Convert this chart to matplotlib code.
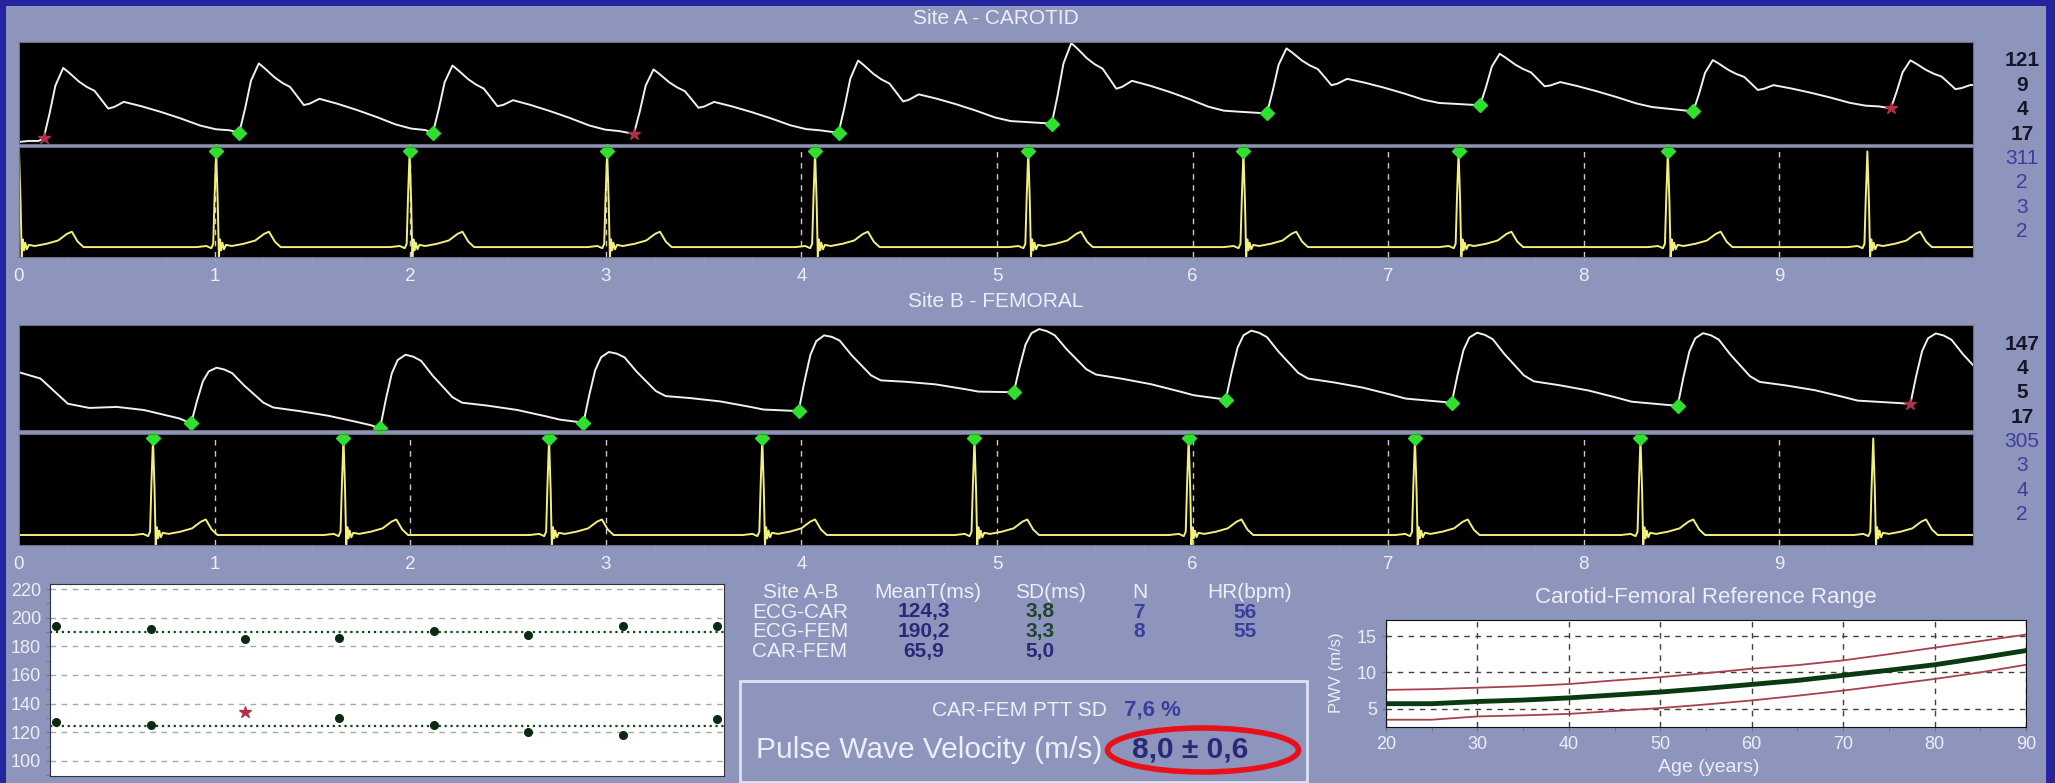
import numpy as np
import matplotlib.pyplot as plt
from matplotlib.patches import Rectangle, Ellipse

plt.rcParams['font.family'] = ['Liberation Sans', 'DejaVu Sans']

W, H = 2055, 783

# ---------------- data ----------------
# Site A (carotid) pressure: foot time (s), foot level, peak level (0..1 of panel)
car_foot_t = [0.126, 1.126, 2.116, 3.144, 4.19, 5.28, 6.38, 7.47, 8.56, 9.57]
car_foot_lvl = [0.055, 0.11, 0.11, 0.10, 0.11, 0.20, 0.30, 0.38, 0.32, 0.35]
car_peak_lvl = [0.74, 0.79, 0.77, 0.73, 0.81, 0.98, 0.93, 0.89, 0.82, 0.82]
car_rejected = [0, 3, 9]
car_lead_t = [0.0, 0.05, 0.10]
car_lead_v = [0.02, 0.03, 0.03]
# carotid beat shape: offset from foot (s), fraction of foot->peak
car_shape_t = [0.00, 0.03, 0.06, 0.10, 0.13, 0.18, 0.22, 0.26, 0.29, 0.33, 0.36, 0.41,
               0.50, 0.60, 0.70, 0.80, 0.88, 0.95]
car_shape_v = [0.00, 0.35, 0.75, 1.00, 0.93, 0.80, 0.72, 0.66, 0.55, 0.40, 0.42, 0.49,
               0.42, 0.33, 0.23, 0.12, 0.06, 0.04]

# Site B (femoral) pressure
fem_foot_t = [0.88, 1.846, 2.886, 3.986, 5.086, 6.17, 7.325, 8.48, 9.67]
fem_foot_lvl = [0.063, 0.016, 0.07, 0.18, 0.36, 0.29, 0.26, 0.23, 0.25]
fem_peak_lvl = [0.60, 0.71, 0.73, 0.88, 0.97, 0.95, 0.93, 0.92, 0.92]
fem_rejected = [8]
fem_lead_t = [0.0, 0.11, 0.25, 0.36, 0.50, 0.64, 0.82]
fem_lead_v = [0.55, 0.49, 0.25, 0.21, 0.22, 0.19, 0.11]
fem_shape_t = [0.00, 0.03, 0.06, 0.09, 0.13, 0.17, 0.21, 0.27, 0.32, 0.37, 0.42,
               0.55, 0.70, 0.85, 0.92]
fem_shape_v = [0.00, 0.40, 0.75, 0.93, 1.00, 0.97, 0.91, 0.70, 0.55, 0.40, 0.32,
               0.27, 0.20, 0.10, 0.05]

# ECG R-peak times (s); markers on detected beats
ecg_a_r = [0.0, 1.008, 1.997, 3.007, 4.07, 5.16, 6.26, 7.36, 8.43, 9.45]
ecg_a_marked = [1, 2, 3, 4, 5, 6, 7, 8]
ecg_b_r = [0.685, 1.659, 2.71, 3.80, 4.885, 5.98, 7.137, 8.29, 9.48]
ecg_b_marked = [0, 1, 2, 3, 4, 5, 6, 7]
ecg_base = 0.09
ecg_shape_t = [-0.10, -0.05, -0.025, -0.015, -0.008, 0.0, 0.008, 0.014, 0.020, 0.026,
               0.032, 0.040, 0.050, 0.08, 0.14, 0.20, 0.245, 0.27, 0.30, 0.33]
ecg_shape_v = [0.09, 0.10, 0.08, 0.12, 0.55, 0.96, 0.50, 0.00, 0.16, 0.06,
               0.13, 0.07, 0.11, 0.10, 0.12, 0.15, 0.21, 0.23, 0.14, 0.09]

# right-hand quality numbers
site_a_dark = ['121', '9', '4', '17']
site_a_blue = ['311', '2', '3', '2']
site_b_dark = ['147', '4', '5', '17']
site_b_blue = ['305', '3', '4', '2']

# transit times per beat (ms)
beat_idx = [0, 1, 2, 3, 4, 5, 6, 7]
ptt_fem = [194, 192, 185, 186, 191, 188, 194, 194]
ptt_car = [127, 125, 134, 130, 125, 120, 118, 129]
ptt_car_rejected = 2

# results table
tbl_head = ['Site A-B', 'MeanT(ms)', 'SD(ms)', 'N', 'HR(bpm)']
tbl_rows = ['ECG-CAR', 'ECG-FEM', 'CAR-FEM']
tbl_mean = ['124,3', '190,2', '65,9']
tbl_sd = ['3,8', '3,3', '5,0']
tbl_n = ['7', '8', '']
tbl_hr = ['56', '55', '']
mean_car, mean_fem = 124.3, 190.2
ptt_sd_txt = '7,6 %'
pwv_txt = '8,0 ± 0,6'

# reference range (age vs PWV)
ref_age = [20, 25, 30, 35, 40, 45, 50, 55, 60, 65, 70, 75, 80, 85, 90]
ref_hi = [7.6, 7.7, 7.9, 8.1, 8.4, 8.9, 9.35, 9.9, 10.5, 11.0, 11.65, 12.5, 13.4, 14.3, 15.2]
ref_mid = [5.7, 5.7, 6.0, 6.2, 6.5, 6.9, 7.3, 7.8, 8.35, 8.9, 9.6, 10.3, 11.05, 12.0, 13.0]
ref_lo = [3.5, 3.5, 3.95, 4.1, 4.3, 4.7, 5.1, 5.6, 6.15, 6.8, 7.5, 8.3, 9.1, 10.0, 11.05]

# ---------------- colours ----------------
BORDER = '#24249e'
BG = '#8e95bc'
LIGHT = '#eceef8'
NAVY = '#262a78'
BLUE = '#3a3f9e'
GREEN_MK = '#2fe02f'
RED_MK = '#b0304a'


def box(l, t, r, b):
    return [l / W, 1 - b / H, (r - l) / W, (b - t) / H]


def ftext(x, y, s, **kw):
    kw.setdefault('va', 'center')
    fig.text(x / W, 1 - y / H, s, **kw)


def build_pulse(feet, foot_lvl, peak_lvl, sh_t, sh_v, lead_t, lead_v):
    t, v = list(lead_t), list(lead_v)
    for i, f in enumerate(feet):
        last = i + 1 == len(feet)
        nxt = foot_lvl[i] if last else foot_lvl[i + 1]
        period = 1.0 if last else feet[i + 1] - f
        amp = peak_lvl[i] - foot_lvl[i]
        for dt, fr in zip(sh_t, sh_v):
            if dt >= period:
                break
            t.append(f + dt)
            v.append(foot_lvl[i] + (nxt - foot_lvl[i]) * dt / period + fr * amp)
    return t, v


def build_ecg(rs):
    t, v = [-1.0], [ecg_base]
    for r in rs:
        t += [r + d for d in ecg_shape_t]
        v += ecg_shape_v
    t.append(11.0)
    v.append(ecg_base)
    return t, v


fig = plt.figure(figsize=(W / 100, H / 100), dpi=100, facecolor=BORDER)
fig.patches.append(Rectangle((6 / W, 0), (2046 - 6) / W, 1 - 6 / H,
                             transform=fig.transFigure, facecolor=BG, edgecolor='none', zorder=-10))


def site(title, ty, p_box, e_box, feet, flvl, plvl, rej, sh_t, sh_v, lead_t, lead_v,
         rs, marked, dark, blue):
    ftext(996, ty, title, ha='center', fontsize=15, color=LIGHT)

    axp = fig.add_axes(box(*p_box), facecolor='black')
    t, v = build_pulse(feet, flvl, plvl, sh_t, sh_v, lead_t, lead_v)
    axp.plot(t, v, color='#f0f0f0', lw=1.4)
    for i, f in enumerate(feet):
        if i in rej:
            axp.plot(f, flvl[i], marker='*', ms=9, color=RED_MK, clip_on=False)
        else:
            axp.plot(f, flvl[i], marker='D', ms=7, color=GREEN_MK, clip_on=False)
    axp.set_xlim(0, 9.99)
    axp.set_ylim(0, 1)
    axp.set_xticks([])
    axp.set_yticks([])

    axe = fig.add_axes(box(*e_box), facecolor='black')
    for k in range(1, 10):
        axe.axvline(k, color='#c8c8d8', lw=1, ls=(0, (4, 4)))
    t, v = build_ecg(rs)
    axe.plot(t, v, color='#f2f07a', lw=1.4)
    axe.plot([rs[i] for i in marked], [0.965] * len(marked), 'D', ms=7,
             color=GREEN_MK, clip_on=False)
    axe.set_xlim(0, 9.99)
    axe.set_ylim(0, 1)
    axe.set_yticks([])
    axe.set_xticks(range(10))
    axe.set_xticks(np.arange(0, 10, 0.25), minor=True)
    axe.tick_params(axis='x', which='both', colors='#a0a2b8', length=3, labelsize=13.5,
                    labelcolor=LIGHT, pad=5)
    for a in (axp, axe):
        for s in a.spines.values():
            s.set_color('#6e6e80')

    y0 = p_box[1] + 19
    for k, s in enumerate(dark):
        ftext(2022, y0 + 24.4 * k, s, ha='center', fontsize=15, fontweight='bold', color='#16162a')
    for k, s in enumerate(blue):
        ftext(2022, y0 + 24.4 * (k + 4), s, ha='center', fontsize=15, color=BLUE)


site('Site A - CAROTID', 18, (19, 42, 1973, 144), (19, 147, 1973, 257),
     car_foot_t, car_foot_lvl, car_peak_lvl, car_rejected, car_shape_t, car_shape_v,
     car_lead_t, car_lead_v, ecg_a_r, ecg_a_marked, site_a_dark, site_a_blue)
site('Site B - FEMORAL', 301, (19, 325, 1973, 430), (19, 434, 1973, 545),
     fem_foot_t, fem_foot_lvl, fem_peak_lvl, fem_rejected, fem_shape_t, fem_shape_v,
     fem_lead_t, fem_lead_v, ecg_b_r, ecg_b_marked, site_b_dark, site_b_blue)

# ---------------- transit time scatter ----------------
axs = fig.add_axes(box(50, 584, 724, 776), facecolor='white')
axs.set_xlim(-0.065, 7.075)
axs.set_ylim(89.5, 223.5)
axs.set_yticks(range(100, 221, 20))
axs.set_yticks(range(90, 221, 10), minor=True)
axs.set_xticks([])
axs.grid(axis='y', color='#a8a8a8', ls=(0, (4, 4)), lw=1)
axs.axhline(mean_fem, color='#0a4a14', ls=':', lw=1.6)
axs.axhline(mean_car, color='#0a4a14', ls=':', lw=1.6)
axs.plot(beat_idx, ptt_fem, 'o', ms=5.5, color='#0b2a12')
ok = [i for i in beat_idx if i != ptt_car_rejected]
axs.plot(ok, [ptt_car[i] for i in ok], 'o', ms=5.5, color='#0b2a12')
axs.plot(ptt_car_rejected, ptt_car[ptt_car_rejected], '*', ms=9, color=RED_MK)
axs.tick_params(axis='y', which='both', colors='#70708a', labelcolor=LIGHT, labelsize=13, length=3)
for s in axs.spines.values():
    s.set_color('#303040')

# ---------------- results table ----------------
col_x = [801, 928, 1050, 1140, 1250]
for x, s in zip(col_x, tbl_head):
    ftext(x, 592, s, ha='center', fontsize=15, color=LIGHT)
for r, name in enumerate(tbl_rows):
    y = 612 + 19.8 * r
    ftext(752, y, name, fontsize=15, color=LIGHT)
    ftext(924, y, tbl_mean[r], ha='center', fontsize=15, fontweight='bold', color=NAVY)
    ftext(1040, y, tbl_sd[r], ha='center', fontsize=15, fontweight='bold',
          color='#1f4430' if r < 2 else NAVY)
    ftext(1139, y, tbl_n[r], ha='center', fontsize=15, fontweight='bold', color=BLUE)
    ftext(1245, y, tbl_hr[r], ha='center', fontsize=15, fontweight='bold', color=BLUE)

fig.patches.append(Rectangle((740 / W, 1 - 782 / H), (1307 - 740) / W, (782 - 681) / H,
                             transform=fig.transFigure, facecolor='none',
                             edgecolor='#dfe2f0', lw=2))
ftext(1107, 710, 'CAR-FEM PTT SD', ha='right', fontsize=15, color=LIGHT)
ftext(1124, 710, ptt_sd_txt, fontsize=16, fontweight='bold', color=BLUE)
ftext(756, 750, 'Pulse Wave Velocity (m/s)', fontsize=21.5, color=LIGHT)
ftext(1132, 750, pwv_txt, fontsize=21.5, fontweight='bold', color=NAVY)
fig.patches.append(Ellipse((1203 / W, 1 - 750 / H), 191 / W, 44 / H, transform=fig.transFigure,
                           facecolor='none', edgecolor='#e8101a', lw=4))

# ---------------- reference range ----------------
ftext(1706, 597, 'Carotid-Femoral Reference Range', ha='center', fontsize=16, color=LIGHT)
axr = fig.add_axes(box(1386, 620, 2026, 727), facecolor='white')
axr.plot(ref_age, ref_hi, color='#a8404e', lw=1.3)
axr.plot(ref_age, ref_lo, color='#a8404e', lw=1.3)
axr.plot(ref_age, ref_mid, color='#0a3a12', lw=3.5)
axr.set_xlim(20, 90)
axr.set_ylim(2.5, 17.2)
axr.set_xticks(range(20, 91, 10))
axr.set_xticks(range(25, 90, 5), minor=True)
axr.set_yticks([5, 10, 15])
axr.grid(color='#404040', ls=(0, (4, 4)), lw=1)
axr.tick_params(which='both', colors='#70708a', labelcolor=LIGHT, labelsize=13, length=3)
for s in axr.spines.values():
    s.set_color('#101010')
ftext(1709, 768, 'Age (years)', ha='center', fontsize=14, color=LIGHT)
ftext(1336, 673, 'PWV (m/s)', ha='center', fontsize=12, color=LIGHT, rotation=90)

fig.savefig('out.png', dpi=100, facecolor=BORDER)
